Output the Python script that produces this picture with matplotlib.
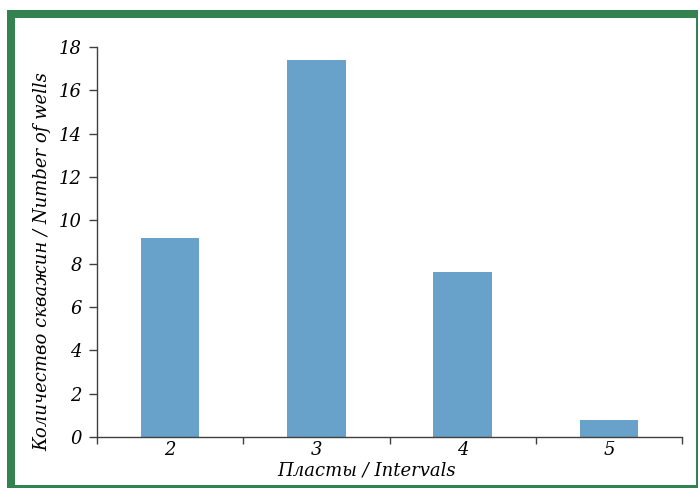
import numpy as np
import matplotlib.pyplot as plt
from matplotlib.patches import Rectangle

# данные
categories = ['2', '3', '4', '5']
wells = [9.2, 17.4, 7.6, 0.8]
y_ticks = [0, 2, 4, 6, 8, 10, 12, 14, 16, 18]

plt.rcParams['font.family'] = ['DejaVu Serif']

fig = plt.figure(figsize=(6.99, 4.88), dpi=100)
W, H = 699.0, 488.0

# зелёная рамка
green = '#348250'
def px_rect(x0, y0, x1, y1):
    fig.patches.append(Rectangle((x0 / W, 1 - y1 / H), (x1 - x0) / W, (y1 - y0) / H,
                                 transform=fig.transFigure, color=green, lw=0))
px_rect(7, 10, 698, 18)
px_rect(7, 10, 15, 488)
px_rect(696, 10, 698, 488)
px_rect(7, 485, 698, 488)

ax = fig.add_axes([97 / W, 1 - 437 / H, (682 - 97) / W, (437 - 47) / H])
x = np.arange(len(categories))
ax.bar(x, wells, width=0.4, color='#68a1c9')

ax.set_xlim(-0.5, len(categories) - 0.5)
ax.set_ylim(0, 18)
ax.set_yticks(y_ticks)
ax.set_yticklabels([str(v) for v in y_ticks], fontsize=13, style='italic')
ax.set_xticks(x)
ax.set_xticklabels(categories, fontsize=13, style='italic')
ax.set_xticks(np.arange(len(categories) + 1) - 0.5, minor=True)
ax.tick_params(axis='x', which='major', length=0, pad=3)
ax.tick_params(axis='x', which='minor', length=5, width=1, color='#404040', direction='out')
ax.tick_params(axis='y', length=6, width=1, color='#404040', pad=5)

for s in ['top', 'right']:
    ax.spines[s].set_visible(False)
for s in ['left', 'bottom']:
    ax.spines[s].set_color('#404040')
    ax.spines[s].set_linewidth(1)

ax.set_xlabel('Пласты / Intervals', fontsize=13, style='italic')
ax.xaxis.set_label_coords(0.46, -0.062)
ax.set_ylabel('Количество скважин / Number of wells', fontsize=13, style='italic', va='center')
ax.yaxis.set_label_coords(-0.094, 0.45)

fig.savefig('out.png', dpi=100)
